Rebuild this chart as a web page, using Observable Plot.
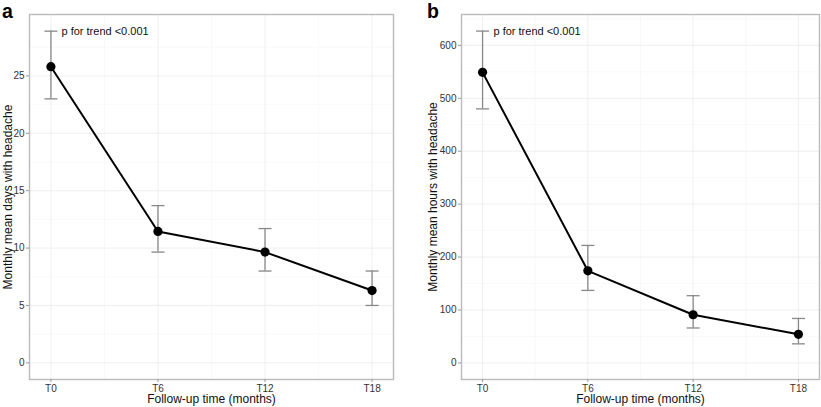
<!DOCTYPE html>
<html>
<head>
<meta charset="utf-8">
<script src="https://cdn.jsdelivr.net/npm/d3@7"></script>
<script src="https://cdn.jsdelivr.net/npm/@observablehq/plot@0.6"></script>
<style>
  body { margin: 0; background: #fff; font-family: Arial, "Liberation Sans", sans-serif; }
  #wrap { display: flex; width: 821px; height: 407px; }
  .panel { position: relative; }
  .tag { position: absolute; top: 0px; line-height: 22px; font-weight: bold; font-size: 19.5px; font-family: Arial, "Liberation Sans", sans-serif; }
  svg { overflow: visible; }
</style>
</head>
<body>
<div id="wrap">
  <div class="panel" id="pa"><span class="tag" style="left:2px">a</span></div>
  <div class="panel" id="pb"><span class="tag" style="left:17px">b</span></div>
</div>
<script>
const months = [0, 6, 12, 18];
const timeLabels = ["T0", "T6", "T12", "T18"];
const daysMean = [25.8, 11.45, 9.65, 6.3];
const daysLow = [23.0, 9.65, 8.0, 5.0];
const daysHigh = [28.9, 13.7, 11.7, 8.0];
const hoursMean = [549, 174, 91, 54];
const hoursLow = [480, 137, 66, 36];
const hoursHigh = [627, 222, 127, 84];
const trendText = "p for trend <0.001";
const xTitle = "Follow-up time (months)";

const capSymbol = {
  draw(context, size) {
    const w = Math.sqrt(size / Math.PI);
    context.moveTo(-w, 0);
    context.lineTo(w, 0);
  }
};

function panel({mean, low, high, yLabel, yTicks, yMinor, yDomain, width, marginLeft, marginRight, labelX}) {
  const data = months.map((m, i) => ({m, label: timeLabels[i], mean: mean[i], low: low[i], high: high[i]}));
  const xMinor = [3, 9, 15];
  return Plot.plot({
    width, height: 407,
    marginLeft, marginRight, marginTop: 14, marginBottom: 28,
    style: {fontFamily: "Arial, 'Liberation Sans', sans-serif", fontSize: "10px", color: "#333", overflow: "visible"},
    x: {type: "linear", domain: [-1.2, 19.2]},
    y: {domain: yDomain},
    marks: [
      Plot.ruleY(yMinor, {stroke: "#f5f5f5", strokeWidth: 0.6}),
      Plot.ruleX(xMinor, {stroke: "#f5f5f5", strokeWidth: 0.6}),
      Plot.ruleY(yTicks, {stroke: "#ededed", strokeWidth: 0.9}),
      Plot.ruleX(months, {stroke: "#ededed", strokeWidth: 0.9}),
      Plot.frame({stroke: "#bbbbbb", strokeWidth: 1.4}),
      Plot.axisX({ticks: months, tickFormat: (d) => timeLabels[months.indexOf(d)], tickSize: 3, tickPadding: 2, stroke: "#999", fontSize: 10, color: "#333", label: null}),
      Plot.axisY({ticks: yTicks, tickSize: 3, tickPadding: 2, stroke: "#999", fontSize: 10, label: null}),
      Plot.text([xTitle], {frameAnchor: "bottom", dy: 20, lineAnchor: "middle", fontSize: 12, fill: "#111"}),
      Plot.text([yLabel], {frameAnchor: "left", dx: -labelX, rotate: -90, textAnchor: "middle", lineAnchor: "middle", fontSize: 12, fill: "#111"}),
      Plot.ruleX(data, {x: "m", y1: "low", y2: "high", stroke: "#888", strokeWidth: 1.3}),
      Plot.dot(data, {x: "m", y: "high", symbol: capSymbol, r: 6.5, stroke: "#888", strokeWidth: 1.3, fill: "none"}),
      Plot.dot(data, {x: "m", y: "low", symbol: capSymbol, r: 6.5, stroke: "#888", strokeWidth: 1.3, fill: "none"}),
      Plot.line(data, {x: "m", y: "mean", stroke: "black", strokeWidth: 2}),
      Plot.dot(data, {x: "m", y: "mean", r: 4.6, fill: "black"}),
      Plot.text([trendText], {frameAnchor: "top-left", dx: 32, dy: 17, lineAnchor: "middle", fontSize: 11, fill: "#111", textAnchor: "start"})
    ]
  });
}

document.getElementById("pa").appendChild(panel({
  mean: daysMean, low: daysLow, high: daysHigh,
  yLabel: "Monthly mean days with headache",
  yTicks: [0, 5, 10, 15, 20, 25], yMinor: [2.5, 7.5, 12.5, 17.5, 22.5, 27.5],
  yDomain: [-1.45, 30.35], width: 410, marginLeft: 29, marginRight: 17, labelX: 21
}));
document.getElementById("pb").appendChild(panel({
  mean: hoursMean, low: hoursLow, high: hoursHigh,
  yLabel: "Monthly mean hours with headache",
  yTicks: [0, 100, 200, 300, 400, 500, 600], yMinor: [50, 150, 250, 350, 450, 550, 650],
  yDomain: [-31.35, 658.35], width: 411, marginLeft: 51, marginRight: 2, labelX: 28
}));
</script>
</body>
</html>
